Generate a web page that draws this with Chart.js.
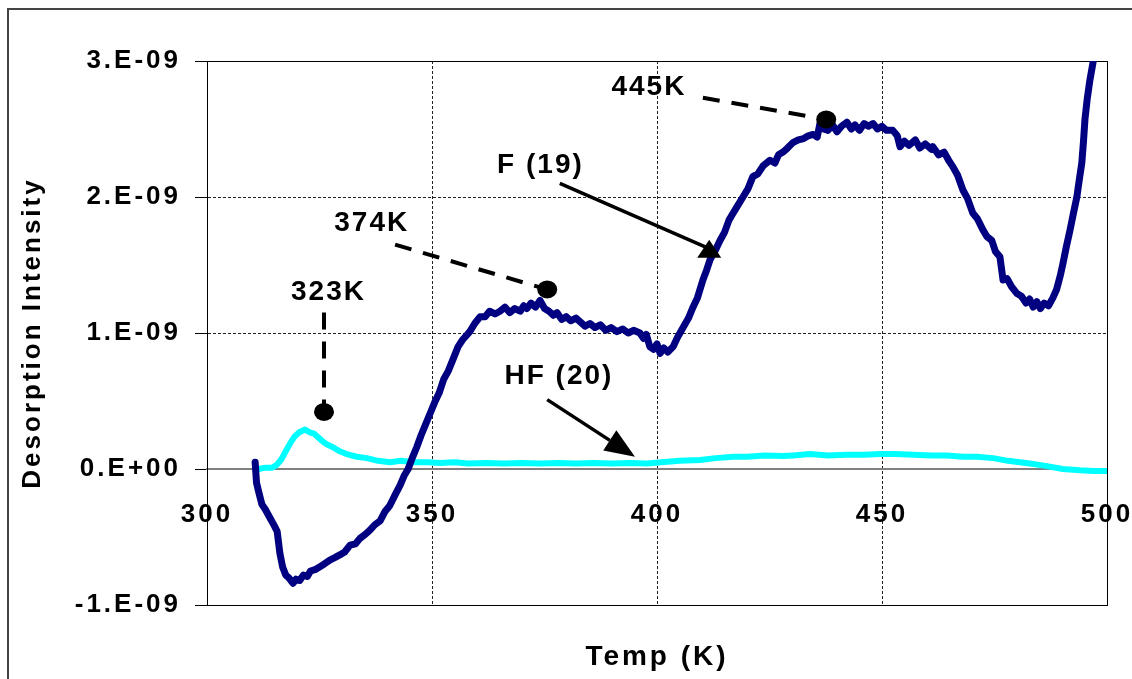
<!DOCTYPE html>
<html>
<head>
<meta charset="utf-8">
<style>
  html, body { margin: 0; padding: 0; background: #fff; }
  #wrap { width: 1132px; height: 679px; }
</style>
<script src="https://cdn.jsdelivr.net/npm/chart.js@4.4.1/dist/chart.umd.min.js"></script>
</head>
<body>
<div id="wrap"><canvas id="tpd" width="1132" height="679"></canvas></div>
<script>
/* ── Data (signal in units of 1e-9) ─────────────── */
const tempF = [310.7,311.0,311.5,312.2,313.0,314.0,315.0,315.6,316.2,316.8,317.5,318.2,319.1,319.8,320.6,321.4,322.3,323.0,324.0,325.0,
  326.0,327.3,328.5,329.6,330.6,331.8,333.0,334.0,335.2,336.2,337.3,338.5,339.6,340.6,341.8,342.9,343.8,344.7,345.6,346.6,
  347.6,348.6,349.6,350.6,351.6,352.6,353.6,354.6,355.8,356.8,357.6,358.4,359.5,360.7,361.8,362.8,364.0,365.1,366.2,367.3,
  368.4,369.6,370.4,371.1,372.0,373.0,374.0,375.0,376.0,377.0,377.8,378.8,379.8,380.8,382.0,383.0,384.0,385.1,386.2,387.4,
  388.6,389.8,391.1,392.4,393.6,394.8,396.2,397.0,397.6,398.4,399.2,400.0,400.7,401.5,402.4,403.6,404.6,405.8,407.0,408.0,
  409.0,410.2,411.0,411.8,413.0,414.0,415.0,416.0,416.9,418.0,419.1,420.2,421.3,422.4,423.6,425.1,426.2,427.0,428.0,429.0,
  430.2,431.4,432.6,433.6,434.7,435.6,436.2,437.0,438.0,439.0,440.0,441.0,442.2,443.2,444.0,445.0,446.0,447.0,448.0,449.0,
  450.0,451.0,452.4,453.4,454.0,455.0,456.0,457.4,458.4,459.6,461.0,461.3,462.6,463.8,464.8,465.8,466.8,468.0,469.0,470.2,
  471.2,472.4,473.3,474.4,475.2,476.2,476.9,477.8,478.8,480.0,481.0,482.0,482.8,483.6,484.4,485.2,486.0,487.0,488.0,488.8,
  489.6,490.2,491.0,491.8,492.6,493.3,493.9,494.4,494.8,495.1,495.6,496.2,496.9];
const sigF = [0.05,-0.10,-0.17,-0.26,-0.30,-0.36,-0.42,-0.46,-0.62,-0.72,-0.78,-0.80,-0.84,-0.81,-0.82,-0.78,-0.79,-0.75,-0.74,-0.72,
  -0.70,-0.67,-0.65,-0.63,-0.61,-0.56,-0.55,-0.51,-0.48,-0.45,-0.41,-0.38,-0.31,-0.27,-0.19,-0.12,-0.05,0.00,0.08,0.16,
  0.25,0.33,0.41,0.49,0.56,0.66,0.72,0.80,0.90,0.95,0.98,1.01,1.07,1.12,1.12,1.16,1.14,1.16,1.19,1.15,
  1.18,1.16,1.20,1.18,1.22,1.19,1.24,1.18,1.16,1.13,1.15,1.10,1.12,1.09,1.11,1.08,1.05,1.07,1.04,1.06,
  1.02,1.04,1.01,1.03,1.00,1.02,1.00,0.96,0.99,0.90,0.88,0.92,0.85,0.89,0.86,0.90,0.97,1.04,1.11,1.19,
  1.26,1.39,1.46,1.54,1.61,1.68,1.74,1.83,1.88,1.94,2.00,2.06,2.15,2.17,2.23,2.27,2.25,2.31,2.33,2.36,
  2.40,2.42,2.43,2.45,2.46,2.44,2.54,2.50,2.49,2.53,2.48,2.52,2.55,2.50,2.53,2.49,2.54,2.52,2.54,2.50,
  2.52,2.49,2.49,2.45,2.37,2.41,2.38,2.42,2.36,2.39,2.35,2.37,2.31,2.33,2.27,2.22,2.16,2.05,1.99,1.88,
  1.84,1.76,1.71,1.68,1.60,1.56,1.39,1.40,1.34,1.29,1.27,1.22,1.25,1.19,1.23,1.18,1.22,1.20,1.26,1.32,
  1.42,1.51,1.64,1.76,1.89,2.00,2.14,2.25,2.42,2.57,2.72,2.86,2.99];

const tempHF = [310.2,311.5,313.0,314.5,315.5,316.5,317.5,318.5,319.5,320.5,321.8,322.8,323.8,324.8,325.8,326.7,328.0,329.5,331.0,333.3,
  335.5,338.0,340.7,343.0,346.0,349.0,351.8,355.0,358.0,362.0,366.0,370.0,374.0,378.0,382.0,386.0,390.0,394.0,397.8,401.0,
  405.0,409.6,413.0,416.9,420.0,424.0,428.0,430.2,434.0,438.0,442.0,446.0,449.6,453.0,457.0,461.0,464.4,468.0,471.0,474.7,
  478.0,482.9,486.0,490.2,494.0,497.0,500.0];
const sigHF = [0.00,0.00,0.01,0.01,0.03,0.07,0.13,0.19,0.24,0.27,0.29,0.27,0.26,0.23,0.20,0.18,0.16,0.13,0.11,0.09,
  0.08,0.06,0.05,0.06,0.05,0.05,0.045,0.05,0.04,0.045,0.04,0.045,0.04,0.045,0.04,0.045,0.04,0.045,0.04,0.05,
  0.06,0.066,0.08,0.09,0.09,0.10,0.095,0.10,0.11,0.10,0.105,0.105,0.11,0.11,0.105,0.10,0.10,0.09,0.09,0.08,
  0.06,0.04,0.025,0.00,-0.01,-0.015,-0.015];

const seriesNames = ['F (19)', 'HF (20)'];
const xTicks = [300, 350, 400, 450, 500];
const yTickLabels = ['-1.E-09', '0.E+00', '1.E-09', '2.E-09', '3.E-09'];

/* ── Annotations (data coordinates) ──────────────── */
const peakNotes = [
  { text: '445K', at: [398.2, 2.81], from: [410.2, 2.73], dot: [437.6, 2.57] },
  { text: '374K', at: [336.6, 1.81], from: [341.8, 1.65], dot: [375.6, 1.32] },
  { text: '323K', at: [327.0, 1.30], from: [326.0, 1.15], dot: [326.0, 0.42] },
];
const arrowNotes = [
  { text: seriesNames[0], at: [374.1, 2.23], from: [378.4, 2.10], to: [411.6, 1.62], head: 'up' },
  { text: seriesNames[1], at: [378.2, 0.68], from: [375.6, 0.51], to: [395.1, 0.09], head: 'line' },
];

const FONT = "'Liberation Sans', Arial, sans-serif";

const toXY = (xs, ys) => xs.map((x, i) => ({ x, y: ys[i] }));

/* ── Plugins ─────────────────────────────────────── */
const spacingPlugin = {
  id: 'spacing',
  beforeLayout(chart) { chart.ctx.letterSpacing = '3px'; },
  beforeDraw(chart) { chart.ctx.letterSpacing = '3px'; }
};

const framePlugin = {
  id: 'frame',
  beforeDatasetsDraw(chart) {
    const { ctx, chartArea: a } = chart;
    ctx.save();
    ctx.strokeStyle = '#000';
    ctx.lineWidth = 1;
    ctx.strokeRect(Math.round(a.left) + 0.5, Math.round(a.top) + 0.5,
                   Math.round(a.right - a.left), Math.round(a.bottom - a.top));
    ctx.restore();
  },
  afterDraw(chart) {
    // outer chart border (runs off the right/bottom edge)
    const ctx = chart.ctx;
    ctx.save();
    ctx.strokeStyle = '#444';
    ctx.lineWidth = 2;
    ctx.strokeRect(8, 9, chart.width + 20, chart.height + 20);
    ctx.restore();
  }
};

const notesPlugin = {
  id: 'notes',
  afterDatasetsDraw(chart) {
    const { ctx } = chart;
    const sx = chart.scales.x, sy = chart.scales.y;
    const P = p => [sx.getPixelForValue(p[0]), sy.getPixelForValue(p[1])];

    ctx.save();
    ctx.fillStyle = '#000';
    ctx.strokeStyle = '#000';

    // dashed leaders to peak dots
    peakNotes.forEach(n => {
      const [x1, y1] = P(n.from), [x2, y2] = P(n.dot);
      ctx.lineWidth = 4;
      ctx.setLineDash([17, 12]);
      ctx.beginPath(); ctx.moveTo(x1, y1); ctx.lineTo(x2, y2); ctx.stroke();
      ctx.setLineDash([]);
      ctx.beginPath(); ctx.ellipse(x2, y2, 10, 9, 0, 0, Math.PI * 2); ctx.fill();
    });

    // arrows to the series
    arrowNotes.forEach(n => {
      const [x1, y1] = P(n.from), [x2, y2] = P(n.to);
      ctx.lineWidth = 3.5;
      ctx.beginPath(); ctx.moveTo(x1, y1);
      if (n.head === 'up') {
        ctx.lineTo(x2, y2); ctx.stroke();
        ctx.beginPath();
        ctx.moveTo(x2, y2 - 9); ctx.lineTo(x2 + 12, y2 + 9); ctx.lineTo(x2 - 12, y2 + 9);
        ctx.closePath(); ctx.fill();
      } else {
        const ang = Math.atan2(y2 - y1, x2 - x1), L = 30, W = 12;
        const bx = x2 - L * Math.cos(ang), by = y2 - L * Math.sin(ang);
        ctx.lineTo(bx, by); ctx.stroke();
        ctx.beginPath();
        ctx.moveTo(x2, y2);
        ctx.lineTo(bx + W * Math.sin(ang), by - W * Math.cos(ang));
        ctx.lineTo(bx - W * Math.sin(ang), by + W * Math.cos(ang));
        ctx.closePath(); ctx.fill();
      }
    });

    // labels
    ctx.font = `bold 28px ${FONT}`;
    ctx.letterSpacing = '2px';
    ctx.textAlign = 'center';
    ctx.textBaseline = 'middle';
    [...peakNotes, ...arrowNotes].forEach(n => {
      const [x, y] = P(n.at);
      ctx.fillText(n.text, x, y);
    });
    ctx.restore();
  }
};

/* ── Chart ───────────────────────────────────────── */
new Chart(document.getElementById('tpd'), {
  type: 'line',
  data: {
    datasets: [
      {
        label: seriesNames[0],
        data: toXY(tempF, sigF),
        borderColor: '#000080',
        borderWidth: 7,
        pointRadius: 0,
        tension: 0,
        borderJoinStyle: 'round',
        borderCapStyle: 'round'
      },
      {
        label: seriesNames[1],
        data: toXY(tempHF, sigHF),
        borderColor: '#00FFFF',
        borderWidth: 6,
        pointRadius: 0,
        tension: 0,
        borderJoinStyle: 'round'
      }
    ]
  },
  options: {
    responsive: false,
    animation: false,
    layout: { padding: { left: 0, top: 61, right: 25, bottom: 0 } },
    plugins: {
      legend: { display: false },
      tooltip: { enabled: false }
    },
    scales: {
      x: {
        type: 'linear',
        position: { y: 0 },
        min: xTicks[0],
        max: xTicks[xTicks.length - 1],
        afterBuildTicks: s => { s.ticks = xTicks.map(v => ({ value: v })); },
        afterFit: s => { s.paddingLeft = 0; s.paddingRight = 0; },
        grid: {
          drawTicks: false,
          color: c => (c.tick && (c.tick.value === 300 || c.tick.value === 500)) ? 'rgba(0,0,0,0)' : '#222',
          lineWidth: 1
        },
        border: { display: true, color: '#808080', width: 2, dash: [3, 2] },
        ticks: {
          padding: 30,
          color: '#000',
          font: { family: FONT, size: 26, weight: 'bold' }
        }
      },
      x2: {
        type: 'linear',
        position: 'bottom',
        min: xTicks[0],
        max: xTicks[xTicks.length - 1],
        afterFit: s => { s.height = 74; },
        grid: { display: false },
        border: { display: false },
        ticks: { display: false },
        title: {
          display: true,
          text: 'Temp (K)',
          color: '#000',
          padding: { top: 0, bottom: 5 },
          font: { family: FONT, size: 28, weight: 'bold' }
        }
      },
      y: {
        type: 'linear',
        min: -1,
        max: 3,
        afterFit: s => { s.width = 207; },
        ticks: {
          stepSize: 1,
          padding: 14,
          color: '#000',
          font: { family: FONT, size: 26, weight: 'bold' },
          callback: (v, i) => yTickLabels[i]
        },
        grid: {
          tickLength: 12,
          tickColor: '#000',
          tickBorderDash: [],
          lineWidth: 1,
          color: c => (c.index === 1 || c.index === 4) ? 'rgba(0,0,0,0)' : '#222'
        },
        border: { display: true, color: '#000', width: 1, dash: [3, 2] },
        title: {
          display: true,
          text: 'Desorption Intensity',
          color: '#000',
          padding: { top: 17, bottom: 0 },
          font: { family: FONT, size: 26, weight: 'bold' }
        }
      }
    }
  },
  plugins: [spacingPlugin, framePlugin, notesPlugin]
});
</script>
</body>
</html>
